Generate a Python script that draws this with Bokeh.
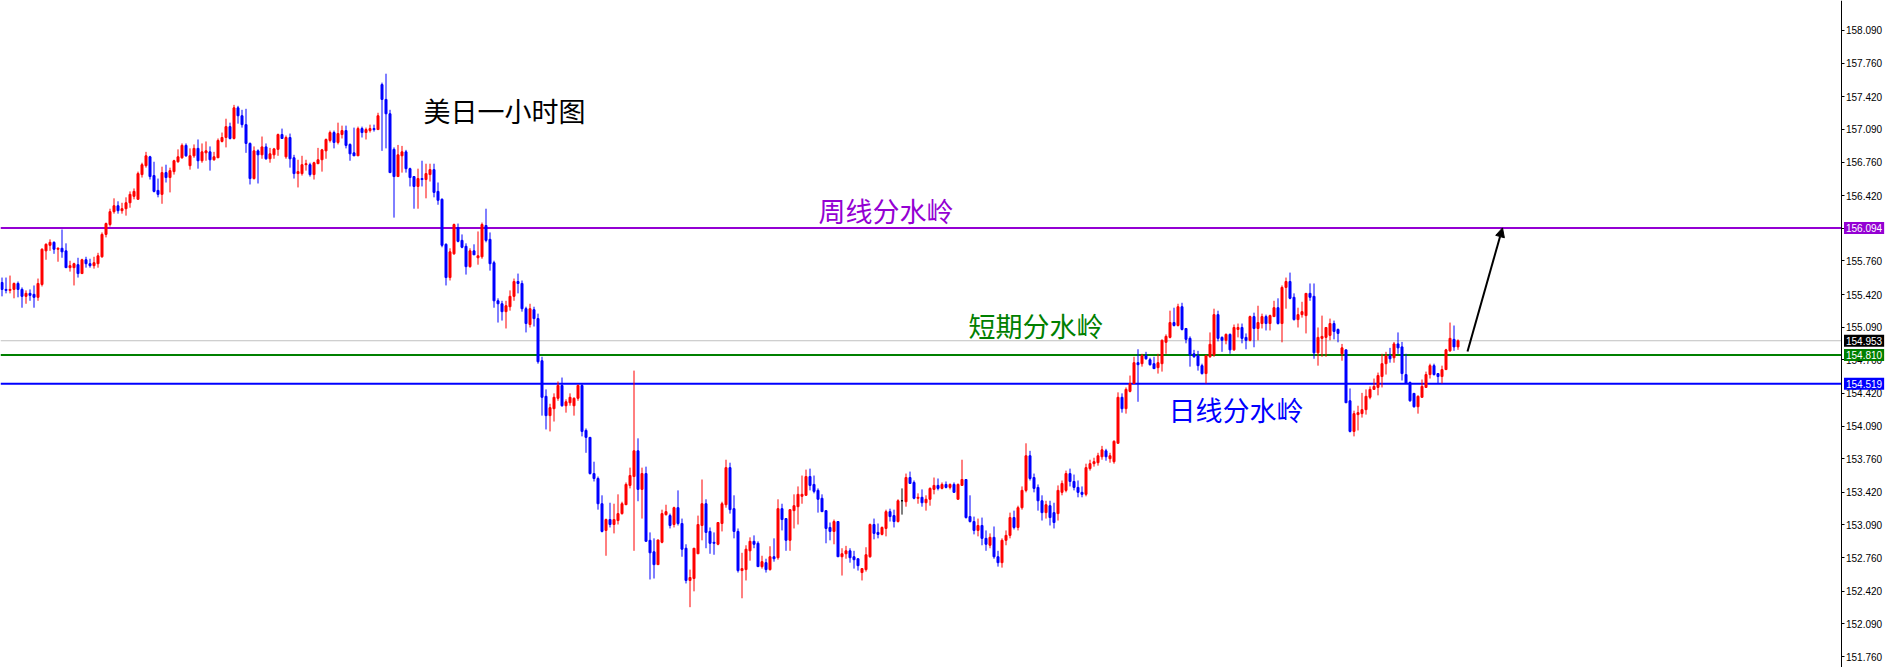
from bokeh.plotting import figure
from bokeh.models import (Range1d, Label, Arrow, NormalHead, FixedTicker, LinearAxis,
                          NumeralTickFormatter, ColumnDataSource)
from bokeh.embed import file_html
from bokeh.resources import INLINE

# ---------------- data (USDJPY 1H candles) ----------------
opens = [
155.542,155.472,155.462,155.472,155.532,155.472,155.402,155.432,155.422,155.392,
155.522,155.862,155.918,155.948,155.878,155.888,155.862,155.692,155.692,155.722,
155.632,155.772,155.732,155.712,155.732,155.802,156.028,156.128,156.258,156.318,
156.268,156.288,156.348,156.413,156.383,156.633,156.723,156.813,156.623,156.473,
156.433,156.653,156.603,156.663,156.763,156.803,156.928,156.723,156.823,156.898,
156.773,156.853,156.863,156.783,156.803,156.968,157.008,157.118,156.998,157.308,
157.228,157.138,156.948,156.593,156.873,156.833,156.913,156.793,156.833,156.888,
157.038,156.813,157.008,156.803,156.643,156.643,156.733,156.733,156.633,156.743,
156.783,156.873,156.978,157.058,156.958,157.038,157.078,156.938,156.853,156.823,
157.098,157.058,157.078,157.098,157.088,157.543,157.393,157.248,156.888,156.613,
156.823,156.863,156.693,156.613,156.513,156.593,156.583,156.633,156.683,156.463,
156.383,155.928,155.592,155.832,156.098,155.968,155.908,155.702,155.862,155.792,
155.802,156.118,155.978,155.742,155.357,155.327,155.247,155.297,155.402,155.552,
155.532,155.277,155.117,155.267,155.177,154.751,154.391,154.196,154.266,154.371,
154.501,154.296,154.326,154.296,154.371,154.501,154.046,153.976,153.610,153.560,
153.305,153.035,153.145,153.095,153.135,153.205,153.295,153.490,153.580,153.840,
153.450,153.610,152.935,152.819,152.689,152.915,153.195,153.185,153.095,153.265,
153.105,152.855,152.529,152.549,152.799,153.085,153.305,153.025,152.915,152.895,
153.105,153.295,153.670,153.255,153.025,152.629,152.639,152.829,152.925,152.905,
152.669,152.709,152.639,152.769,152.759,153.255,153.155,152.935,153.235,153.275,
153.380,153.390,153.580,153.500,153.440,153.360,153.235,153.065,153.025,153.125,
152.769,152.799,152.829,152.769,152.749,152.609,152.639,152.769,153.095,153.015,
152.995,153.055,153.225,153.185,153.125,153.335,153.325,153.570,153.520,153.360,
153.370,153.315,153.350,153.450,153.490,153.460,153.500,153.470,153.500,153.350,
153.490,153.550,153.175,153.125,153.035,153.085,152.955,152.885,152.965,152.769,
152.709,152.935,152.985,153.165,153.065,153.265,153.440,153.790,153.570,153.470,
153.335,153.215,153.285,153.215,153.205,153.420,153.440,153.610,153.530,153.470,
153.420,153.400,153.660,153.710,153.720,153.780,153.840,153.760,153.730,153.916,
154.381,154.266,154.441,154.521,154.731,154.721,154.801,154.761,154.721,154.681,
154.721,154.937,154.987,155.137,155.107,155.297,155.077,154.977,154.821,154.801,
154.701,154.621,154.791,154.811,155.217,154.987,154.957,155.017,154.861,155.067,
155.087,154.987,154.957,155.197,155.077,155.127,155.197,155.127,155.197,155.287,
155.127,155.492,155.552,155.392,155.167,155.217,155.207,155.432,155.402,154.831,
154.977,154.987,155.007,155.127,155.067,154.821,154.861,154.346,154.036,154.206,
154.216,154.256,154.381,154.461,154.481,154.591,154.721,154.801,154.781,154.921,
154.891,154.611,154.531,154.421,154.286,154.381,154.481,154.611,154.701,154.621,
154.591,154.661,154.851,154.967,154.891]

highs = [
155.592,155.592,155.612,155.542,155.552,155.492,155.462,155.472,155.512,155.582,
155.888,155.938,155.978,155.958,155.898,156.078,155.938,155.762,155.742,155.792,
155.782,155.802,155.782,155.802,155.842,156.048,156.148,156.288,156.393,156.363,
156.348,156.403,156.463,156.493,156.663,156.753,156.863,156.823,156.763,156.593,
156.713,156.733,156.703,156.783,156.888,156.948,156.948,156.898,156.938,156.988,
156.948,156.968,156.918,156.863,156.998,157.058,157.198,157.158,157.338,157.328,
157.288,157.298,156.958,156.918,156.888,157.018,156.948,156.903,156.903,157.048,
157.098,157.028,157.048,156.833,156.783,156.823,156.783,156.753,156.763,156.903,
156.893,156.998,157.078,157.078,157.158,157.128,157.128,156.948,157.108,157.118,
157.118,157.108,157.138,157.138,157.258,157.563,157.653,157.288,156.908,156.933,
156.923,156.883,156.703,156.613,156.693,156.773,156.743,156.743,156.743,156.553,
156.393,155.938,155.888,156.138,156.138,156.028,155.938,155.888,155.928,156.058,
156.148,156.288,156.048,155.762,155.382,155.357,155.357,155.462,155.582,155.632,
155.562,155.297,155.327,155.297,155.227,154.791,154.461,154.316,154.421,154.541,
154.581,154.361,154.421,154.381,154.511,154.521,154.066,153.976,153.730,153.580,
153.390,153.155,153.315,153.305,153.400,153.325,153.520,153.670,154.651,153.966,
153.670,153.680,153.015,152.955,152.939,153.245,153.295,153.205,153.275,153.440,
153.155,152.895,152.639,152.855,153.185,153.550,153.350,153.065,153.015,153.115,
153.325,153.750,153.720,153.390,153.055,152.809,152.885,152.965,152.985,152.925,
152.779,152.749,152.875,152.955,153.350,153.305,153.155,153.245,153.400,153.480,
153.590,153.650,153.660,153.590,153.460,153.400,153.235,153.115,153.145,153.125,
152.855,152.879,152.855,152.829,152.749,152.649,152.865,153.105,153.155,153.105,
153.075,153.245,153.255,153.245,153.350,153.460,153.610,153.630,153.540,153.410,
153.450,153.390,153.470,153.570,153.560,153.520,153.530,153.510,153.520,153.510,
153.750,153.550,153.390,153.175,153.155,153.165,153.035,153.005,153.075,152.829,
152.955,153.035,153.215,153.235,153.285,153.480,153.916,153.840,153.610,153.500,
153.390,153.335,153.335,153.315,153.490,153.540,153.640,153.660,153.600,153.540,
153.480,153.710,153.750,153.770,153.820,153.890,153.860,153.820,153.946,154.431,
154.421,154.481,154.601,154.791,154.867,154.821,154.841,154.781,154.791,154.821,
154.967,155.017,155.257,155.287,155.327,155.337,155.077,154.997,154.861,154.851,
154.721,154.811,155.037,155.277,155.257,154.997,155.027,155.027,155.117,155.127,
155.127,155.027,155.207,155.237,155.307,155.227,155.217,155.217,155.357,155.382,
155.512,155.592,155.642,155.432,155.287,155.347,155.432,155.532,155.532,155.087,
155.207,155.087,155.177,155.157,155.077,154.921,154.861,154.471,154.246,154.296,
154.426,154.461,154.491,154.571,154.631,154.821,154.841,154.881,154.941,155.037,
154.941,154.821,154.541,154.421,154.401,154.561,154.641,154.721,154.721,154.621,
154.701,154.871,155.137,155.107,154.967]

lows = [
155.402,155.432,155.432,155.382,155.392,155.287,155.327,155.357,155.287,155.357,
155.502,155.772,155.862,155.832,155.752,155.792,155.692,155.652,155.512,155.592,
155.632,155.692,155.692,155.682,155.692,155.792,155.998,156.108,156.238,156.238,
156.238,156.218,156.298,156.383,156.383,156.603,156.703,156.583,156.453,156.403,
156.338,156.553,156.453,156.633,156.753,156.793,156.813,156.683,156.803,156.693,
156.753,156.773,156.673,156.773,156.803,156.958,156.908,156.988,156.988,157.148,
157.108,156.853,156.533,156.583,156.543,156.793,156.783,156.753,156.793,156.823,
156.998,156.793,156.703,156.593,156.503,156.623,156.673,156.613,156.583,156.743,
156.663,156.793,156.958,156.898,156.938,156.998,156.898,156.773,156.823,156.823,
157.008,156.988,157.058,157.068,157.088,156.873,156.898,156.653,156.198,156.613,
156.653,156.653,156.513,156.288,156.288,156.513,156.393,156.563,156.403,156.328,
155.898,155.512,155.562,155.822,155.948,155.888,155.622,155.692,155.822,155.722,
155.782,155.948,155.662,155.287,155.137,155.157,155.077,155.257,155.357,155.432,
155.247,155.037,155.087,155.097,154.721,154.196,154.056,154.036,154.136,154.346,
154.286,154.226,154.296,154.196,154.346,153.986,153.820,153.600,153.530,153.245,
153.015,152.779,153.065,153.005,153.095,153.195,153.295,153.460,152.829,153.330,
153.155,152.925,152.539,152.549,152.689,152.905,153.185,153.055,153.065,153.085,
152.769,152.499,152.259,152.419,152.799,152.935,152.855,152.799,152.789,152.885,
153.025,153.265,153.205,152.955,152.609,152.349,152.529,152.729,152.855,152.669,
152.649,152.609,152.629,152.719,152.739,153.035,152.829,152.829,153.055,153.095,
153.305,153.390,153.440,153.410,153.215,153.225,152.905,152.935,152.895,152.769,
152.579,152.749,152.709,152.649,152.629,152.529,152.619,152.759,152.945,152.955,
152.985,152.975,153.125,153.065,153.115,153.195,153.275,153.510,153.350,153.305,
153.275,153.235,153.285,153.400,153.440,153.450,153.460,153.450,153.420,153.350,
153.490,153.155,153.115,152.995,152.975,152.885,152.829,152.855,152.749,152.669,
152.659,152.885,152.955,153.045,153.035,153.245,153.420,153.540,153.420,153.235,
153.135,153.155,153.085,153.055,153.135,153.390,153.420,153.480,153.440,153.370,
153.370,153.380,153.640,153.680,153.690,153.750,153.740,153.720,153.710,153.916,
154.226,154.216,154.431,154.521,154.336,154.691,154.761,154.701,154.671,154.621,
154.641,154.821,154.977,155.097,155.097,155.057,154.927,154.691,154.781,154.651,
154.611,154.521,154.781,154.791,154.947,154.841,154.917,154.821,154.851,154.987,
154.927,154.867,154.947,154.887,154.957,155.077,155.057,155.057,155.197,155.117,
154.937,155.277,155.372,155.157,155.087,155.187,155.027,155.357,154.771,154.701,
154.791,154.791,154.957,154.967,154.937,154.751,154.326,154.026,153.986,154.046,
154.176,154.206,154.361,154.461,154.401,154.481,154.611,154.731,154.731,154.821,
154.551,154.521,154.336,154.276,154.216,154.381,154.481,154.571,154.601,154.521,
154.521,154.661,154.841,154.851,154.861]

closes = [
155.472,155.462,155.472,155.532,155.472,155.402,155.432,155.412,155.392,155.532,
155.878,155.928,155.948,155.878,155.888,155.852,155.692,155.712,155.732,155.632,
155.772,155.732,155.712,155.742,155.812,156.028,156.138,156.258,156.318,156.268,
156.288,156.348,156.433,156.463,156.643,156.733,156.823,156.613,156.463,156.433,
156.653,156.603,156.673,156.773,156.813,156.928,156.823,156.823,156.898,156.773,
156.863,156.873,156.783,156.813,156.978,157.008,157.118,156.998,157.308,157.228,
157.138,156.948,156.593,156.873,156.833,156.913,156.793,156.843,156.893,157.038,
156.998,157.008,156.793,156.643,156.663,156.733,156.743,156.633,156.753,156.783,
156.883,156.988,157.058,156.958,157.048,157.078,156.928,156.843,156.823,157.098,
157.058,157.088,157.098,157.088,157.228,157.393,157.248,156.653,156.613,156.833,
156.863,156.693,156.603,156.513,156.593,156.583,156.643,156.683,156.453,156.373,
155.918,155.592,155.852,156.128,155.958,155.898,155.702,155.862,155.822,155.812,
156.128,155.968,155.732,155.357,155.327,155.247,155.307,155.402,155.552,155.532,
155.277,155.127,155.277,155.177,154.741,154.381,154.196,154.276,154.381,154.501,
154.296,154.336,154.381,154.371,154.501,154.036,153.976,153.610,153.560,153.305,
153.025,153.145,153.095,153.145,153.205,153.305,153.500,153.590,153.840,153.450,
153.610,152.925,152.809,152.689,152.939,153.205,153.225,153.085,153.265,153.105,
152.845,152.529,152.559,152.855,153.095,153.305,153.015,152.905,152.905,153.115,
153.305,153.670,153.245,153.025,152.629,152.649,152.845,152.925,152.895,152.669,
152.719,152.639,152.769,152.749,153.255,153.145,152.935,153.245,153.285,153.400,
153.400,153.580,153.490,153.430,153.350,153.225,153.055,153.025,153.125,152.769,
152.799,152.829,152.759,152.739,152.679,152.649,152.789,153.095,153.005,152.995,
153.065,153.225,153.175,153.125,153.335,153.335,153.570,153.510,153.360,153.370,
153.315,153.350,153.460,153.490,153.460,153.500,153.470,153.500,153.420,153.500,
153.550,153.165,153.125,153.035,153.085,152.955,152.895,152.965,152.769,152.709,
152.935,152.985,153.165,153.065,153.265,153.440,153.790,153.560,153.460,153.335,
153.215,153.295,153.165,153.115,153.440,153.510,153.610,153.530,153.470,153.420,
153.400,153.670,153.710,153.730,153.790,153.850,153.780,153.790,153.936,154.381,
154.266,154.461,154.521,154.731,154.711,154.801,154.771,154.711,154.671,154.731,
154.957,154.997,155.137,155.107,155.297,155.067,154.967,154.811,154.791,154.701,
154.621,154.801,154.917,155.217,154.977,154.957,155.017,154.861,155.087,155.087,
154.977,154.957,155.197,155.077,155.137,155.197,155.127,155.207,155.287,155.127,
155.492,155.552,155.382,155.167,155.217,155.247,155.432,155.392,154.831,154.987,
154.997,155.087,155.127,155.047,155.027,154.881,154.326,154.036,154.216,154.226,
154.256,154.391,154.461,154.491,154.601,154.721,154.801,154.771,154.921,154.881,
154.621,154.521,154.346,154.286,154.391,154.491,154.611,154.701,154.611,154.591,
154.661,154.861,154.977,154.891,154.953]

price_ticks = [151.760, 152.090, 152.420, 152.760, 153.090, 153.420, 153.760,
               154.090, 154.420, 154.760, 155.090, 155.420, 155.760, 156.090,
               156.420, 156.760, 157.090, 157.420, 157.760, 158.090]

weekly_level = 156.094    # 周线分水岭
last_price = 154.953      # current bid line
short_level = 154.810     # 短期分水岭
daily_level = 154.519     # 日线分水岭

# ---------------- figure ----------------
W, H = 1885, 667
X0 = -0.375                      # 4 px per bar
AXIS_X = X0 + 1840.5 / 4.0       # price scale sits at the right edge of the chart area

n = min(len(opens), len(highs), len(lows), len(closes))
o_, h_, l_, c_ = opens[:n], highs[:n], lows[:n], closes[:n]
colors = ["#FF0000" if c > o else ("#0000FF" if c < o else "#000000") for o, c in zip(o_, c_)]
src = ColumnDataSource(dict(
    x=list(range(n)), high=h_, low=l_,
    top=[max(o, c) for o, c in zip(o_, c_)],
    bottom=[min(o, c) for o, c in zip(o_, c_)],
    color=colors))

p = figure(width=W, height=H,
           x_range=Range1d(X0, X0 + W / 4.0),
           y_range=Range1d(151.6491, 158.3933),
           x_axis_type=None, y_axis_location=None,
           output_backend="svg", toolbar_location=None,
           min_border_left=0, min_border_top=0, min_border_bottom=0, min_border_right=0,
           background_fill_color="white", border_fill_color="white")
p.outline_line_color = None
p.grid.visible = False

ax = LinearAxis(fixed_location=AXIS_X,
                ticker=FixedTicker(ticks=price_ticks),
                formatter=NumeralTickFormatter(format="0.000"))
ax.major_label_text_font = "Liberation Sans"
ax.major_label_text_font_size = "10px"
ax.major_label_text_color = "black"
ax.axis_line_color = "black"
ax.major_tick_line_color = "black"
ax.major_tick_out = 3
ax.major_tick_in = 0
ax.minor_tick_out = 0
ax.minor_tick_in = 0
ax.major_label_standoff = 2
p.add_layout(ax, "right")

# horizontal levels (from the left edge up to the price scale)
lv_src = ColumnDataSource(dict(
    y=[last_price, weekly_level, short_level, daily_level],
    color=["#C0C0C0", "#9400D3", "#008000", "#0000FF"],
    lw=[1, 2, 2, 2]))
p.segment(x0=X0, x1=AXIS_X, y0="y", y1="y", line_color="color", line_width="lw", source=lv_src)

# candles
p.segment(x0="x", y0="high", x1="x", y1="low", color="color", line_width=1, source=src)
p.vbar(x="x", width=0.5, top="top", bottom="bottom", fill_color="color",
       line_color="color", line_width=1, source=src)

# arrow towards the weekly level
p.add_layout(Arrow(end=NormalHead(size=9, fill_color="black", line_color="black"),
                   x_start=366.375, y_start=154.844, x_end=375.125, y_end=weekly_level,
                   line_color="black", line_width=2))

# texts
for txt, xx, yy, col in [("美日一小时图", 105.375, 157.281, "#000000"),
                         ("周线分水岭", 204.125, 156.270, "#9400D3"),
                         ("短期分水岭", 241.625, 155.107, "#008000"),
                         ("日线分水岭", 291.625, 154.258, "#0000FF")]:
    p.add_layout(Label(x=xx, y=yy, text=txt, text_font="Noto Sans CJK SC",
                       text_font_size="27px", text_color=col,
                       text_baseline="middle", text_align="left"))

# price boxes on the price scale
for lv, col in [(weekly_level, "#9400D3"), (last_price, "#000000"),
                (short_level, "#008000"), (daily_level, "#0000FF")]:
    p.add_layout(Label(x=X0 + 1843.5 / 4.0, y=lv, text=f"{lv:.3f}",
                       text_font="Liberation Sans", text_font_size="10px",
                       text_color="white", text_baseline="middle", text_align="left",
                       background_fill_color=col, padding=2))

open("out.html", "w").write(file_html(p, INLINE))
